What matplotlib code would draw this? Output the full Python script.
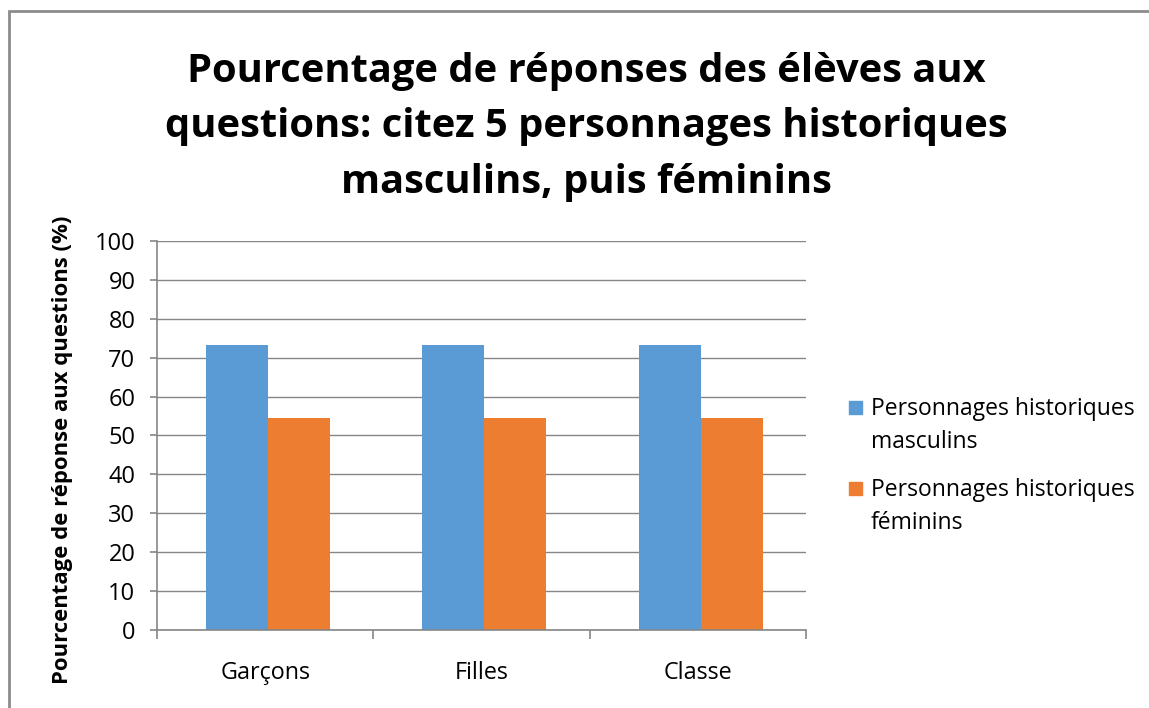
import numpy as np
import matplotlib.pyplot as plt
from matplotlib.patches import Rectangle

plt.rcParams['font.family'] = ['Open Sans', 'DejaVu Sans']

categories = ['Garçons', 'Filles', 'Classe']
masculins = [73.2, 73.2, 73.2]
feminins = [54.6, 54.6, 54.6]
series_labels = ['Personnages historiques\nmasculins', 'Personnages historiques\nféminins']
yticks = list(range(0, 101, 10))

blue = '#5b9bd5'
orange = '#ed7d31'
grid_c = '#868686'

fig = plt.figure(figsize=(11.49, 7.08), dpi=100)
ax = fig.add_axes([0.1366, 0.1102, 0.5649, 0.5494])

x = np.arange(len(categories))
w = 0.287
ax.bar(x - w / 2 + 0.013, masculins, width=w, color=blue)
ax.bar(x + w / 2 + 0.013, feminins, width=w, color=orange)

ax.set_xlim(-0.5, 2.5)
ax.set_ylim(0, 100)
ax.set_yticks(yticks)
ax.set_xticks(x)
ax.set_xticklabels(categories, fontsize=16.8)
ax.set_xticks([-0.5, 0.5, 1.5, 2.5], minor=True)
ax.tick_params(axis='x', which='major', length=0, pad=22)
ax.tick_params(axis='x', which='minor', length=6.5, color=grid_c, width=1.2)
ax.tick_params(axis='y', length=5, color=grid_c, width=1.2, labelsize=17, pad=10.5)
ax.yaxis.grid(True, color=grid_c, linewidth=1)
ax.set_axisbelow(True)
for s in ['top', 'right']:
    ax.spines[s].set_visible(False)
for s in ['left', 'bottom']:
    ax.spines[s].set_color(grid_c)
    ax.spines[s].set_linewidth(1.2)

fig.text(0.054, 0.364, 'Pourcentage de réponse aux questions (%)', rotation=90,
         ha='center', va='center', fontsize=15.9, fontweight='bold')

fig.text(0.51, 1 - 127 / 708,
         'Pourcentage de réponses des élèves aux\nquestions: citez 5 personnages historiques\nmasculins, puis féminins',
         ha='center', va='center', fontsize=28.7, fontweight='bold', linespacing=1.55)

# legend, drawn by hand so the square sits on the first line of each label
W, H = 1149, 708
leg_rows = [407, 488]
for lab, col, yc in zip(series_labels, [blue, orange], leg_rows):
    fig.patches.append(Rectangle((849 / W, 1 - (yc + 6.5) / H), 13 / W, 13 / H,
                                 transform=fig.transFigure, color=col))
    fig.text(871 / W, 1 - (yc - 10) / H, lab, ha='left', va='top',
             fontsize=16.5, linespacing=1.5)

fig.patches.append(Rectangle((9 / W, -0.1), 1.2, 1 - 11 / H + 0.1, transform=fig.transFigure,
                             fill=False, edgecolor='#8c8c8c', linewidth=2))

fig.savefig('out.png', dpi=100)
